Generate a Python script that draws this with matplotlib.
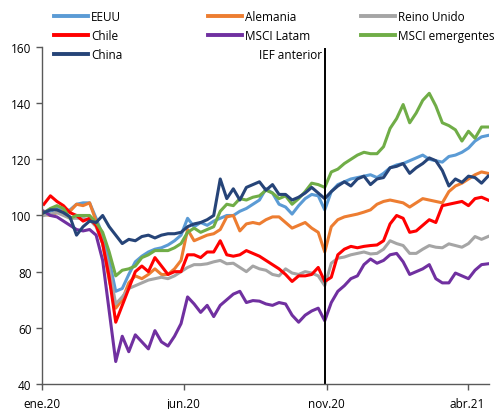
import pandas as pd
import matplotlib.pyplot as plt

plt.rcParams['font.family'] = ['Open Sans', 'DejaVu Sans']

# Índices bursátiles semanales (base 100), viernes de cada semana
fechas = pd.date_range('2020-01-03', '2021-04-23', freq='W-FRI')

eeuu = [100.5, 101.5, 102.5, 101.5, 102, 104, 104.5, 104.5, 99, 93,
        84, 73, 74, 79, 83.5, 85.5, 87, 88, 88.5, 89.5,
        91, 93, 99, 96, 97.5, 96.5, 98, 99, 100, 100,
        101.5, 102.5, 104, 105.5, 109.5, 108, 104, 103, 100.5, 103.5,
        106, 107.5, 107, 102, 108.5, 111, 112, 113, 113.5, 114,
        114.5, 113.5, 115, 117, 118, 118.5, 119.5, 120.5, 121.5, 120,
        119.5, 119, 121, 121.5, 122.5, 124, 126.5, 128, 128.5]

alemania = [100.5, 100, 101, 101.5, 101.5, 104, 103.5, 104.5, 98, 90,
            77, 67, 70, 76, 78.5, 77.5, 79, 81, 79, 79,
            81, 84, 95, 91, 92, 93, 93.5, 95, 99.5, 100,
            94.5, 97, 97.5, 97, 98.5, 99.5, 99.5, 97.5, 95.5, 96.5,
            97.5, 95.5, 94, 87, 96, 98.5, 99.5, 100, 100.5, 101.2,
            102, 104, 105, 105.5, 105, 104.5, 103, 104.5, 106, 105.5,
            105, 104.5, 108.5, 110.5, 111.5, 113, 114.5, 115.5, 115]

reino_unido = [100, 100.5, 101, 100, 99, 99, 99, 98.5, 96, 90,
               81, 68.5, 71, 74, 75, 76, 77, 77.5, 78, 77.5,
               78.5, 80, 81.5, 82.5, 82.5, 82.8, 83.5, 84, 82.8, 83,
               81.5, 80, 82, 81, 80.5, 79, 78.5, 81, 79.5, 79,
               80, 79.5, 78.5, 75, 83, 84.8, 85.2, 86, 86.5, 87,
               86.3, 86.5, 88, 91, 90, 89.3, 86.5, 86.5, 88, 89.3,
               88.7, 88.5, 89.9, 89.3, 88.7, 90, 92.5, 91.5, 92.5]

chile = [104, 107, 105, 103.5, 101, 100, 98, 99, 96.5, 90,
         78, 62, 68, 74, 80, 82, 80, 85, 82, 79,
         80, 80, 86, 86, 85, 87, 87, 91, 86, 85.5,
         86, 87.5, 86.5, 85.5, 84, 82.5, 81, 79, 76.5, 78.5,
         78.5, 79, 81.5, 76.5, 78, 86, 88, 89, 88.5, 89,
         89.3, 89.5, 91, 97, 100, 99, 94, 94.5, 96.5, 98.5,
         97.5, 103.5, 104, 104.5, 105, 103.5, 106, 106.5, 105.5]

msci_latam = [101.5, 100, 99.5, 98, 96.5, 95, 94.5, 95, 93, 84,
              66, 48, 57, 51.5, 57.5, 55, 52.5, 59, 55, 53.5,
              57, 61.5, 71, 68.5, 65.5, 68, 64, 68, 70, 72,
              73, 69, 69.7, 69.5, 68.5, 68, 69, 68.5, 64.5, 62,
              64.5, 66, 67, 62.5, 69, 73, 75, 77.5, 78.5, 82.5,
              84.5, 83, 84, 86, 86.5, 83.5, 79, 80, 81, 82.5,
              77.5, 76, 76, 79.5, 78.5, 77.5, 80.5, 82.5, 82.8]

msci_emergentes = [101, 102.5, 103.5, 102.5, 99, 100, 100, 100, 97.5, 94,
                   87, 78.5, 80.5, 81, 82, 85, 86, 87.5, 87.5, 87.5,
                   88.5, 90, 94, 95.5, 94, 95, 96, 101.5, 104, 103.5,
                   106, 105.5, 106.5, 107, 109, 108, 106, 107, 104, 106,
                   108.5, 111.5, 111, 110, 115.5, 116.5, 118.5, 120, 121.5, 122.5,
                   122, 122, 124.5, 131, 134.5, 139.5, 133, 136.5, 141, 143.5,
                   139, 133, 132, 130.5, 126.5, 130, 127.5, 131.5, 131.5]

china = [101, 102, 102, 101, 99.5, 93, 96, 98, 97.5, 100,
         96, 93, 90, 91.5, 91, 92.5, 93, 92, 93, 93.5,
         93.5, 94, 96, 97, 97.5, 98.5, 100, 113, 106, 109.5,
         105.5, 110, 111, 112, 109, 111, 107.5, 107.5, 105.5, 106.5,
         108, 110, 108, 106, 108.5, 110.5, 112, 110.5, 113, 114,
         111, 113, 113.5, 117, 117.5, 118.5, 115, 117, 118.5, 120.5,
         119.5, 116, 110.5, 113, 111.8, 114, 113.5, 111.5, 114]

series = [
    ('EEUU', eeuu, '#5B9BD5'),
    ('Alemania', alemania, '#ED7D31'),
    ('Reino Unido', reino_unido, '#A5A5A5'),
    ('Chile', chile, '#FF0000'),
    ('MSCI Latam', msci_latam, '#7030A0'),
    ('MSCI emergentes', msci_emergentes, '#70AD47'),
    ('China', china, '#264478'),
]

ief_fecha = pd.Timestamp('2020-10-30')
ticks = pd.to_datetime(['2020-01-01', '2020-06-01', '2020-11-01', '2021-04-01'])
tick_labels = ['ene.20', 'jun.20', 'nov.20', 'abr.21']

fig = plt.figure(figsize=(5, 4.1), dpi=100)
ax = fig.add_axes([0.084, 0.061, 0.894, 0.822])

lineas = {}
for nombre, valores, color in series:
    ln, = ax.plot(fechas, valores, color=color, lw=2.2, label=nombre)
    lineas[nombre] = ln

ax.axvline(ief_fecha, ymin=0, ymax=0.994, color='black', lw=1.4)
ax.annotate('IEF anterior', xy=(ief_fecha, 157.2), xytext=(-2, 0),
            textcoords='offset points', ha='right', va='center', fontsize=8.5)

ax.set_ylim(40, 160)
ax.set_yticks(range(40, 161, 20))
ax.set_xlim(pd.Timestamp('2020-01-01'), pd.Timestamp('2021-04-24'))
ax.set_xticks(ticks)
ax.set_xticklabels(tick_labels)

for lado in ['top', 'right']:
    ax.spines[lado].set_visible(False)
for lado in ['left', 'bottom']:
    ax.spines[lado].set_color('#595959')
    ax.spines[lado].set_linewidth(1)
ax.tick_params(axis='both', direction='out', length=4, width=1,
               color='#595959', labelsize=8.5, labelcolor='black')
ax.tick_params(axis='x', pad=5.5)

# leyenda en tres columnas de ancho fijo
columnas = [['EEUU', 'Chile', 'China'],
            ['Alemania', 'MSCI Latam'],
            ['Reino Unido', 'MSCI emergentes']]
x_cols = [0.108, 0.416, 0.722]
for nombres, x0 in zip(columnas, x_cols):
    leg = fig.legend([lineas[n] for n in nombres], nombres, loc='upper left',
                     bbox_to_anchor=(x0, 0.973), frameon=False, fontsize=8.5,
                     handlelength=2.9, handletextpad=0.25, labelspacing=0.52,
                     borderpad=0, borderaxespad=0)
    for h in leg.legend_handles:
        h.set_linewidth(2.8)

fig.savefig('out.png', dpi=100)
